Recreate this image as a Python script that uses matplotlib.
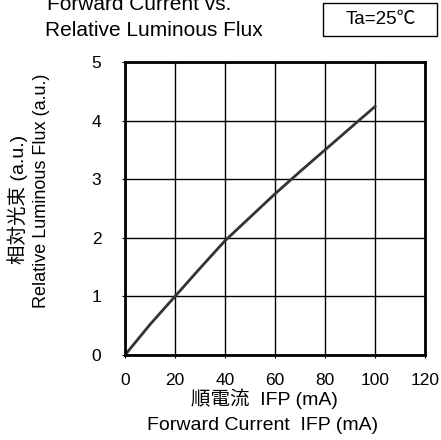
import numpy as np
import matplotlib.pyplot as plt
from matplotlib.patches import Rectangle

fonts = ['Liberation Sans', 'Noto Sans CJK JP', 'DejaVu Sans']
plt.rcParams['font.family'] = fonts

current = [0, 10, 20, 30, 40, 50, 60, 70, 80, 90, 100]
flux = [0, 0.52, 1.0, 1.48, 1.95, 2.35, 2.75, 3.13, 3.5, 3.87, 4.24]
xticks = [0, 20, 40, 60, 80, 100, 120]
yticks = [0, 1, 2, 3, 4, 5]

fig = plt.figure(figsize=(4.41, 4.40), dpi=100)
ax = fig.add_axes([125/441, 1-355/440, 300/441, 293/440])

ax.plot(current, flux, color='#333333', lw=2)
ax.set_xlim(0, 120)
ax.set_ylim(0, 5)
ax.set_xticks(xticks)
ax.set_xticklabels([str(t) for t in xticks], family='Liberation Sans', fontsize=12.5)
ax.set_yticks(yticks)
ax.set_yticklabels([str(t) for t in yticks], family='Liberation Sans', fontsize=12.5)
ax.grid(True, color='black', lw=1)
for s in ax.spines.values():
    s.set_linewidth(2)
ax.tick_params(length=2, width=0.8, pad=11)
ax.tick_params(axis='y', pad=15)

fig.text(47/441, 1-4/440, 'Forward Current vs.', fontsize=15, ha='left', va='center')
fig.text(45/441, 1-31/440, 'Relative Luminous Flux', fontsize=15, ha='left', va='center')
fig.patches.append(Rectangle((323/441, 1-36/440), 114/441, 33/440, transform=fig.transFigure,
                             fc='white', ec='black', lw=1))
fig.text(381/441, 1-20/440, 'Ta=25\u2103', fontsize=13.5, ha='center', va='center')

fig.text(264/441, 1-399/440, '順電流  IFP (mA)', fontsize=14, ha='center', va='center')
fig.text(263/441, 1-425/440, 'Forward Current  IFP (mA)', fontsize=14, ha='center', va='center')
fig.text(18/441, 1-199/440, '相対光束 (a.u.)', fontsize=14, ha='center', va='center', rotation=90)
fig.text(42/441, 1-191/440, 'Relative Luminous Flux (a.u.)', fontsize=13, ha='center', va='center', rotation=90)

fig.savefig('out.png', dpi=100)
